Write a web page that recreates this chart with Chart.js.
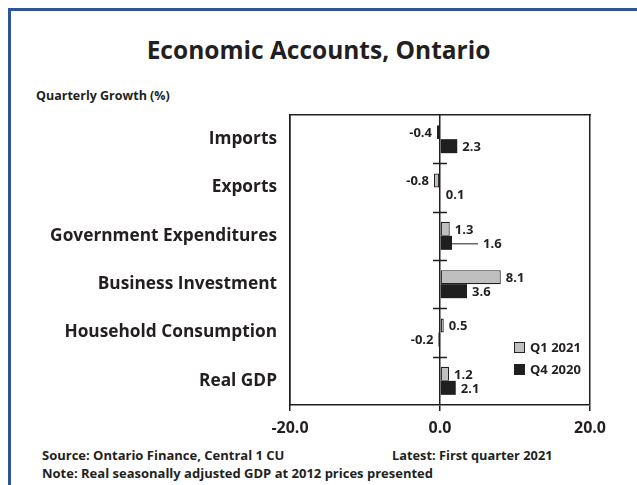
<!DOCTYPE html>
<html>
<head>
<meta charset="utf-8">
<script src="https://cdn.jsdelivr.net/npm/chart.js@4"></script>
<style>
  body { margin: 0; width: 637px; height: 485px; overflow: hidden; background: #fff; font-family: 'Open Sans', sans-serif; color: #231f20; }
  .frame { position: absolute; left: 8px; top: 8px; width: 700px; height: 600px; border: 3px solid #2f5597; }
  .txt { position: absolute; font-weight: bold; white-space: nowrap; }
  #wrap { position: absolute; left: 0; top: 0; width: 637px; height: 485px; }
  .leg { position: absolute; left: 514px; font-weight: bold; font-size: 13px; }
  .leg span { display: inline-block; width: 9px; height: 9px; margin-right: 5px; vertical-align: -1px; border: 1px solid #222; }
</style>
</head>
<body>
<div class="frame"></div>
<div class="txt" style="left:0;width:637px;text-align:center;top:33px;font-size:24.5px;">Economic Accounts, Ontario</div>
<div class="txt" style="left:36px;top:87px;font-size:12.5px;">Quarterly Growth (%)</div>
<div class="txt" style="left:42px;top:446px;font-size:13px;">Source: Ontario Finance, Central 1 CU</div>
<div class="txt" style="left:392px;top:446px;font-size:12.8px;">Latest: First quarter 2021</div>
<div class="txt" style="left:42px;top:464px;font-size:13px;">Note: Real seasonally adjusted GDP at 2012 prices presented</div>
<div id="wrap"><canvas id="econ"></canvas></div>
<div id="legend"></div>
<script>
const categories = ['Imports', 'Exports', 'Government Expenditures', 'Business Investment', 'Household Consumption', 'Real GDP'];
const q1_2021 = [-0.4, -0.8, 1.3, 8.1, 0.5, 1.2];
const q4_2020 = [2.3, 0.1, 1.6, 3.6, -0.2, 2.1];
const xTicks = [-20, 0, 20];

const ink = '#231f20';

// value labels next to each bar, plus the small cross ticks on the zero line
const barLabels = {
  id: 'barLabels',
  afterDatasetsDraw(chart, args, opts) {
    const ctx = chart.ctx;
    const area = chart.chartArea;
    const x0 = chart.scales.x.getPixelForValue(0);
    const step = (area.bottom - area.top) / categories.length;
    ctx.save();
    ctx.strokeStyle = ink;
    ctx.lineWidth = 1.6;
    ctx.beginPath();
    for (let i = 1; i < categories.length; i++) {
      const yb = Math.round(area.top + i * step) + 0.5;
      ctx.moveTo(x0 - 7, yb);
      ctx.lineTo(x0 + 7, yb);
    }
    ctx.stroke();

    ctx.font = 'bold 13px "Open Sans"';
    ctx.fillStyle = ink;
    ctx.textBaseline = 'middle';
    chart.data.datasets.forEach((ds, di) => {
      chart.getDatasetMeta(di).data.forEach((bar, i) => {
        const v = ds.data[i];
        let x = bar.x;
        const y = bar.y + 1;
        if (opts.leader && opts.leader.dataset === di && opts.leader.index === i) {
          ctx.lineWidth = 1;
          ctx.beginPath();
          ctx.moveTo(x, y);
          ctx.lineTo(x + opts.leader.length, y);
          ctx.stroke();
          x += opts.leader.length;
        }
        if (v >= 0) {
          ctx.textAlign = 'left';
          ctx.fillText(v.toFixed(1), x + 5, y);
        } else {
          ctx.textAlign = 'right';
          ctx.fillText(v.toFixed(1), x - 5, y);
        }
      });
    });
    ctx.restore();
  }
};

const chart = new Chart(document.getElementById('econ'), {
  type: 'bar',
  data: {
    labels: categories,
    datasets: [
      { label: 'Q1 2021', data: q1_2021, backgroundColor: '#bfbfbf', borderColor: ink, borderWidth: 1.2, borderSkipped: false },
      { label: 'Q4 2020', data: q4_2020, backgroundColor: '#1f1f1f', borderColor: '#1f1f1f', borderWidth: 0 }
    ]
  },
  options: {
    indexAxis: 'y',
    responsive: true,
    maintainAspectRatio: false,
    animation: false,
    layout: { padding: { left: 0, top: 115, right: 47, bottom: 0 } },
    datasets: { bar: { barPercentage: 1, categoryPercentage: 0.58 } },
    scales: {
      x: {
        min: -20, max: 20,
        afterBuildTicks: s => { s.ticks = xTicks.map(v => ({ value: v })); },
        afterFit: s => { s.height = 80; },
        grid: { color: ink, lineWidth: 1.5, tickLength: 6, drawOnChartArea: true },
        border: { display: true, color: ink, width: 1.5 },
        ticks: {
          padding: 8,
          color: ink,
          font: { family: 'Open Sans', size: 16, weight: 'bold' },
          callback: v => v.toFixed(1)
        }
      },
      x2: {
        type: 'linear', position: 'top', min: -20, max: 20,
        afterFit: s => { s.height = 0; },
        grid: { display: false, drawTicks: false },
        border: { display: true, color: ink, width: 1.5 },
        ticks: { display: false }
      },
      y: {
        afterFit: s => { s.width = 290; },
        grid: { display: false, drawTicks: false },
        border: { display: true, color: ink, width: 1.5 },
        ticks: {
          padding: 13,
          color: ink,
          font: { family: 'Open Sans', size: 17.3, weight: 'bold' }
        }
      }
    },
    plugins: {
      legend: { display: false },
      tooltip: { enabled: false },
      barLabels: { leader: { dataset: 1, index: 2, length: 26 } }
    }
  },
  plugins: [barLabels]
});

// legend inside the plot area
const legendTops = [338, 360];
document.getElementById('legend').innerHTML = chart.data.datasets.map((ds, i) =>
  '<div class="leg" style="top:' + legendTops[i] + 'px"><span style="background:' + ds.backgroundColor + '"></span>' + ds.label + '</div>'
).join('');
</script>
</body>
</html>
